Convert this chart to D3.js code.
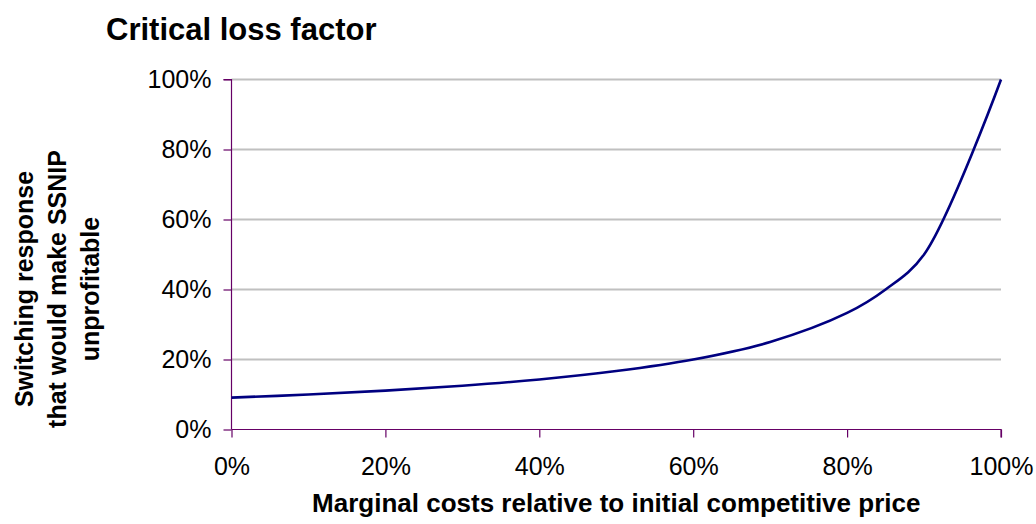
<!DOCTYPE html>
<html>
<head>
<meta charset="utf-8">
<script src="https://cdn.jsdelivr.net/npm/d3@7"></script>
<style>
  html, body { margin: 0; padding: 0; background: #ffffff; }
  svg { display: block; }
  text { font-family: "Liberation Sans", Arial, sans-serif; fill: #000; }
</style>
</head>
<body>
<svg id="chart" width="1036" height="524"></svg>
<script>
// Marginal cost as a share of the initial competitive price
const marginalCost = [0, 0.10, 0.20, 0.30, 0.40, 0.50, 0.60, 0.70, 0.80, 0.85, 0.90, 1.00];
// Critical loss: the switching that would make a SSNIP unprofitable
const criticalLoss = [0.091, 0.100, 0.111, 0.125, 0.143, 0.167, 0.200, 0.250, 0.333, 0.400, 0.500, 1.000];
const xTicks = [0, 0.2, 0.4, 0.6, 0.8, 1.0];
const yTicks = [0, 0.2, 0.4, 0.6, 0.8, 1.0];

const titleText = "Critical loss factor";
const xTitle = "Marginal costs relative to initial competitive price";
const yTitleLines = ["Switching response", "that would make SSNIP", "unprofitable"];

const svg = d3.select("#chart");
const plot = { left: 231.5, right: 1001, top: 79.5, bottom: 429.5 };

const x = d3.scaleLinear().domain([0, 1]).range([plot.left, plot.right]);
const y = d3.scaleLinear().domain([0, 1]).range([plot.bottom, plot.top]);
const pct = d3.format(".0%");
const axisColor = "#660066";

// horizontal gridlines
svg.append("g")
  .selectAll("line")
  .data(yTicks.filter(d => d > 0))
  .join("line")
  .attr("x1", plot.left).attr("x2", plot.right)
  .attr("y1", d => y(d)).attr("y2", d => y(d))
  .attr("stroke", "#c0c0c0")
  .attr("stroke-width", 2);

// y axis
const yAxis = svg.append("g")
  .attr("transform", `translate(${plot.left},0)`)
  .call(d3.axisLeft(y).tickValues(yTicks).tickFormat(pct).tickSize(8).tickPadding(12));
// x axis
const xAxis = svg.append("g")
  .attr("transform", `translate(0,${plot.bottom})`)
  .call(d3.axisBottom(x).tickValues(xTicks).tickFormat(pct).tickSize(8).tickPadding(20));

[yAxis, xAxis].forEach(g => {
  g.select(".domain").attr("stroke", axisColor).attr("stroke-width", 1.2);
  g.selectAll(".tick line").attr("stroke", axisColor).attr("stroke-width", 1.2);
  g.selectAll(".tick text")
    .attr("fill", "#000")
    .style("font-family", '"Liberation Sans", Arial, sans-serif')
    .style("font-size", "25px");
});
yAxis.select(".domain").attr("d", `M-8,${plot.top}H0V${plot.bottom}`);
xAxis.select(".domain").attr("d", `M${plot.left},0H${plot.right}V8`);

// critical loss curve
const line = d3.line()
  .x((d, i) => x(marginalCost[i]))
  .y(d => y(d))
  .curve(d3.curveCatmullRom.alpha(0.5));

svg.append("path")
  .datum(criticalLoss)
  .attr("d", line)
  .attr("fill", "none")
  .attr("stroke", "#000080")
  .attr("stroke-width", 2.6)
  .attr("stroke-linejoin", "round");

// chart title
svg.append("text")
  .attr("x", 106).attr("y", 40)
  .style("font-size", "31px")
  .style("font-weight", "bold")
  .text(titleText);

// x axis title
svg.append("text")
  .attr("x", (plot.left + plot.right) / 2).attr("y", 512)
  .attr("text-anchor", "middle")
  .style("font-size", "26px")
  .style("font-weight", "bold")
  .text(xTitle);

// y axis title (three lines, rotated)
const yt = svg.append("text")
  .attr("transform", `translate(24,289) rotate(-90)`)
  .attr("text-anchor", "middle")
  .style("font-size", "25px")
  .style("font-weight", "bold");
yt.selectAll("tspan")
  .data(yTitleLines)
  .join("tspan")
  .attr("x", 0)
  .attr("dy", (d, i) => i === 0 ? "0.35em" : "1.32em")
  .text(d => d);
</script>
</body>
</html>
